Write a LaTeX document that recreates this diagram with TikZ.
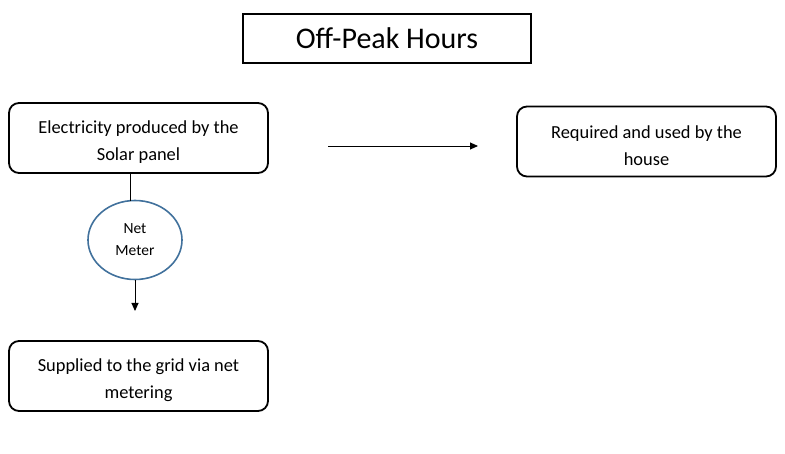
\documentclass[tikz,border=0pt]{standalone}
\usepackage{fontspec}
\setmainfont{Carlito}
\usetikzlibrary{shapes.geometric,arrows.meta,calc}
\definecolor{meterblue}{HTML}{41719C}
\begin{document}
\begin{tikzpicture}[x=1pt,y=-1pt,
  box/.style={draw=black,line width=1.8pt,rounded corners=10pt,minimum width=259pt,minimum height=70pt,align=center,inner sep=0pt,text height=47.5pt,font=\fontsize{18.4}{27}\selectfont},
  titlebox/.style={draw=black,line width=1.6pt,minimum width=288pt,minimum height=49pt,inner sep=0pt,font=\fontsize{30}{34}\selectfont},
  meter/.style={ellipse,draw=meterblue,line width=1.6pt,minimum width=94pt,minimum height=79pt,inner sep=0pt,align=center,font=\fontsize{15.5}{22}\selectfont},
  conn/.style={draw=black,line width=0.9pt},
  arr/.style={conn,-{Triangle[length=8pt,width=7pt]}}]
\useasboundingbox (0,0) rectangle (785,454);
\node[titlebox] (T) at (387,38.5) {Off-Peak Hours};
\node[box] (A) at (138.5,138) {Electricity produced by the\\Solar panel};
\node[box] (B) at (646.5,141.5) {Required and used by the\\house};
\node[box] (C) at (138.5,376) {Supplied to the grid via net\\metering};
\node[meter] (M) at (135,240) {Net\\Meter};
\coordinate (h1) at (328,146);
\coordinate (h2) at (478,146);
\coordinate (d1) at (135,311);
\draw[arr] (h1) -- (h2);
\draw[conn] (A.south -| 130,0) -- (130,201);
\draw[arr] (M.south) -- (d1);
\end{tikzpicture}
\end{document}
